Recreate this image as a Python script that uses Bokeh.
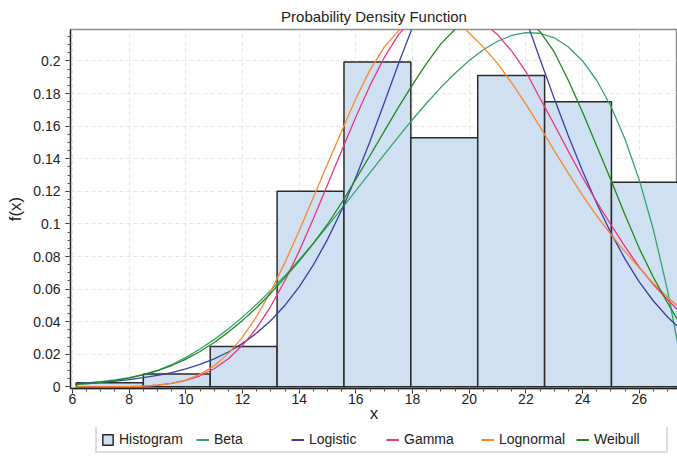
from bokeh.plotting import figure
from bokeh.layouts import column
from bokeh.models import (Range1d, Legend, LegendItem, SingleIntervalTicker,
                          NumeralTickFormatter)
from bokeh.embed import file_html
from bokeh.resources import INLINE

# ---- data ----
bin_edges = [6.14, 8.50, 10.86, 13.22, 15.58, 17.94, 20.30, 22.66, 25.02, 27.38]
bin_heights = [0.0026, 0.0079, 0.0247, 0.1201, 0.1993, 0.1529, 0.1911, 0.1750, 0.1255]

curve_x = [6.1, 6.5, 7.0, 7.5, 8.0, 8.5, 9.0, 9.5, 10.0, 10.5,
           11.0, 11.5, 12.0, 12.5, 13.0, 13.5, 14.0, 14.5, 15.0, 15.5,
           16.0, 16.5, 17.0, 17.5, 18.0, 18.5, 19.0, 19.5, 20.0, 20.5,
           21.0, 21.5, 22.0, 22.5, 23.0, 23.5, 24.0, 24.5, 25.0, 25.5,
           26.0, 26.5, 27.0, 27.4]

beta_y = [0.0020, 0.0025, 0.0032, 0.0043, 0.0057, 0.0076, 0.0101, 0.0136, 0.0181, 0.0232,
          0.0290, 0.0355, 0.0428, 0.0507, 0.0592, 0.0683, 0.0780, 0.0881, 0.0986, 0.1094,
          0.1204, 0.1315, 0.1425, 0.1534, 0.1641, 0.1742, 0.1838, 0.1925, 0.2003, 0.2069,
          0.2121, 0.2157, 0.2174, 0.2170, 0.2142, 0.2086, 0.2000, 0.1880, 0.1722, 0.1520,
          0.1270, 0.0964, 0.0591, 0.0228]

logistic_y = [0.0019, 0.0023, 0.0029, 0.0036, 0.0045, 0.0057, 0.0071, 0.0088, 0.0111, 0.0138,
              0.0172, 0.0214, 0.0267, 0.0330, 0.0407, 0.0501, 0.0614, 0.0748, 0.0905, 0.1085,
              0.1286, 0.1507, 0.1742, 0.1981, 0.2207, 0.2412, 0.2578, 0.2686, 0.2730, 0.2703,
              0.2609, 0.2457, 0.2255, 0.2010, 0.1770, 0.1540, 0.1325, 0.1125, 0.0945, 0.0784,
              0.0644, 0.0527, 0.0429, 0.0363]

gamma_y = [0.0000, 0.0000, 0.0000, 0.0001, 0.0002, 0.0005, 0.0011, 0.0022, 0.0040, 0.0068,
           0.0111, 0.0172, 0.0255, 0.0362, 0.0496, 0.0653, 0.0833, 0.1031, 0.1240, 0.1450,
           0.1656, 0.1850, 0.2020, 0.2160, 0.2258, 0.2318, 0.2336, 0.2322, 0.2285, 0.2232,
           0.2162, 0.2060, 0.1935, 0.1770, 0.1610, 0.1445, 0.1285, 0.1135, 0.0995, 0.0860,
           0.0735, 0.0628, 0.0535, 0.0466]

lognormal_y = [0.0000, 0.0000, 0.0000, 0.0000, 0.0002, 0.0004, 0.0010, 0.0021, 0.0042, 0.0077,
               0.0129, 0.0204, 0.0305, 0.0433, 0.0587, 0.0764, 0.0958, 0.1162, 0.1368, 0.1570,
               0.1770, 0.1945, 0.2085, 0.2185, 0.2258, 0.2298, 0.2302, 0.2258, 0.2172, 0.2085,
               0.1985, 0.1865, 0.1735, 0.1595, 0.1450, 0.1310, 0.1175, 0.1050, 0.0935, 0.0830,
               0.0730, 0.0635, 0.0550, 0.0490]

weibull_y = [0.0015, 0.0019, 0.0027, 0.0038, 0.0053, 0.0073, 0.0099, 0.0131, 0.0170, 0.0217,
             0.0272, 0.0336, 0.0408, 0.0487, 0.0575, 0.0672, 0.0772, 0.0880, 0.0998, 0.1130,
             0.1275, 0.1420, 0.1568, 0.1715, 0.1855, 0.1987, 0.2105, 0.2195, 0.2268, 0.2319,
             0.2328, 0.2308, 0.2260, 0.2180, 0.2055, 0.1880, 0.1685, 0.1478, 0.1270, 0.1055,
             0.0850, 0.0672, 0.0515, 0.0398]

series_names = ["Beta", "Logistic", "Gamma", "Lognormal", "Weibull"]
series_values = [beta_y, logistic_y, gamma_y, lognormal_y, weibull_y]
series_colors = ["#35a46a", "#3a3ea6", "#e8357c", "#f7882e", "#1c8a1c"]

FONT = "Liberation Sans"
TXT = "#222222"
BAR_FILL = "#cfe0f2"
BAR_LINE = "#2a2a2a"

# ---------------- main plot ----------------
p = figure(width=677, height=427, output_backend="svg", toolbar_location=None,
           x_range=Range1d(5.93, 27.35), y_range=Range1d(-0.001, 0.2193),
           min_border_left=70, min_border_right=0, min_border_top=29, min_border_bottom=39,
           background_fill_color="white", border_fill_color="white")

p.title.text = "Probability Density Function"
p.title.align = "center"
p.title.text_font = FONT
p.title.text_font_size = "15px"
p.title.text_font_style = "normal"
p.title.text_color = TXT
p.title.standoff = 9

p.outline_line_color = "#8c8c8c"
p.outline_line_width = 1.5

p.xaxis.ticker = SingleIntervalTicker(interval=2, num_minor_ticks=4)
p.yaxis.ticker = SingleIntervalTicker(interval=0.02, num_minor_ticks=4)
p.yaxis.formatter = NumeralTickFormatter(format="0.[00]")
p.xaxis.axis_label = "x"
p.yaxis.axis_label = "f(x)"
for ax in (p.xaxis, p.yaxis):
    ax.axis_line_color = "#222222"
    ax.axis_line_width = 1.3
    ax.major_tick_line_color = "#222222"
    ax.major_tick_out = 5
    ax.major_tick_in = 0
    ax.minor_tick_line_color = "#555555"
    ax.minor_tick_out = 3
    ax.minor_tick_in = 0
    ax.major_label_text_font = FONT
    ax.major_label_text_font_size = "14px"
    ax.major_label_text_color = TXT
    ax.axis_label_text_font = FONT
    ax.axis_label_text_font_size = "17px"
    ax.axis_label_text_font_style = "normal"
    ax.axis_label_text_color = TXT
p.xaxis.major_label_standoff = 0
p.xaxis.axis_label_standoff = -3
p.yaxis.axis_label_standoff = 5

for g in (p.xgrid, p.ygrid):
    g.grid_line_color = "#e6e6e6"
    g.grid_line_dash = "4 3"
    g.grid_line_width = 1

p.quad(left=bin_edges[:-1], right=bin_edges[1:], bottom=0, top=bin_heights,
       fill_color=BAR_FILL, line_color=BAR_LINE, line_width=1.5)
for ys, col in zip(series_values, series_colors):
    p.line(curve_x, ys, line_color=col, line_width=1.3)

# ---------------- legend strip ----------------
q = figure(width=677, height=30, output_backend="svg", toolbar_location=None,
           x_range=Range1d(0, 1), y_range=Range1d(0, 1),
           x_axis_type=None, y_axis_type=None,
           min_border=0, min_border_left=0, min_border_right=0,
           min_border_top=0, min_border_bottom=0,
           background_fill_color="white", border_fill_color="white")
q.outline_line_color = None
q.xgrid.visible = False
q.ygrid.visible = False

# off-screen stand-ins so the legend can draw its glyphs
hist_r = q.quad(left=[5], right=[6], bottom=[5], top=[6],
                fill_color=BAR_FILL, line_color=BAR_LINE, line_width=1.5)
items = [LegendItem(label="Histogram", renderers=[hist_r])]
for name, col in zip(series_names, series_colors):
    r = q.line(x=[5, 6], y=[5, 6], line_color=col, line_width=2)
    items.append(LegendItem(label=name, renderers=[r]))

legend = Legend(items=items, orientation="horizontal", location=(25, 4),
                label_width=68, label_height=14, label_standoff=5, spacing=9,
                glyph_width=13, glyph_height=13, padding=4, margin=0,
                label_text_font=FONT, label_text_font_size="14px", label_text_color=TXT,
                border_line_color="#bdbdbd", border_line_width=2,
                background_fill_color="white", background_fill_alpha=1.0)
q.add_layout(legend, "center")

layout = column(p, q, spacing=0)
open("out.html", "w").write(file_html(layout, INLINE))
